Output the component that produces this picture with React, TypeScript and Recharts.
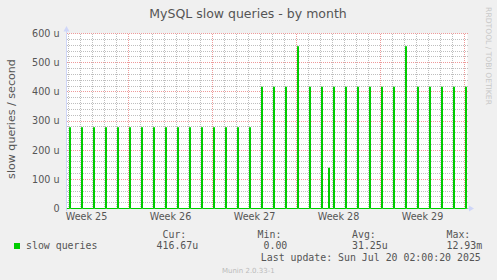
import { AreaChart, Area, XAxis, YAxis, CartesianGrid } from "recharts";

// x values are hours counted from the first midnight on the graph
const X_START = -4;
const X_END = 798;

const WEEK_LABELS = ["Week 25", "Week 26", "Week 27", "Week 28", "Week 29"];
// week boundaries, in days
const WEEK_STARTS = [-2, 5, 12, 19, 26, 33];
const DAY_LINES = [
  0, 1, 2, 3, 4, 6, 7, 8, 9, 10, 11, 13, 14, 15, 16, 17, 18, 20, 21, 22, 23,
  24, 25, 27, 28, 29, 30, 31, 32,
];

// one spike per day, slow queries per second in micro units
const DAILY_PEAKS = [
  277.78, 277.78, 277.78, 277.78, 277.78, 277.78, 277.78, 277.78,
  277.78, 277.78, 277.78, 277.78, 277.78, 277.78, 277.78, 277.78,
  416.67, 416.67, 416.67, 555.56, 416.67, 416.67, 416.67, 416.67,
  416.67, 416.67, 416.67, 416.67, 555.56, 416.67, 416.67, 416.67,
  416.67, 416.67,
];
// the odd one in the afternoon of day 21
const EXTRA_SPIKES = [{ day: 21, hour: 16, value: 138.89 }];

const Y_MAJOR = [0, 100, 200, 300, 400, 500, 600];
const Y_MINOR = [
  20, 40, 60, 80, 120, 140, 160, 180, 220, 240, 260, 280, 320, 340, 360, 380,
  420, 440, 460, 480, 520, 540, 560, 580,
];

const STAT_NAMES = ["Cur:", "Min:", "Avg:", "Max:"];
const STAT_VALUES = ["416.67u", "0.00", "31.25u", "12.93m"];

const PULSE = 2; // hours a spike stays up (one 2h sample)

const spikes = DAILY_PEAKS.map((v, d) => ({ t: d * 24 + 2, v }))
  .concat(EXTRA_SPIKES.map((s) => ({ t: s.day * 24 + s.hour, v: s.value })))
  .sort((a, b) => a.t - b.t);

const data: { t: number; v: number }[] = [{ t: X_START, v: 0 }];
spikes.forEach((s) => {
  data.push({ t: s.t, v: 0 });
  data.push({ t: s.t, v: s.v });
  data.push({ t: s.t + PULSE, v: s.v });
  data.push({ t: s.t + PULSE, v: 0 });
});
data.push({ t: X_END, v: 0 });

const weekMids = WEEK_LABELS.map((_, i) => ((WEEK_STARTS[i] + WEEK_STARTS[i + 1]) / 2) * 24);
const majorX = WEEK_STARTS.slice(1).map((d) => d * 24);
const minorX = DAY_LINES.map((d) => d * 24);

const FONT = "'DejaVu Sans', sans-serif";
const MONO = "'DejaVu Sans Mono', monospace";
const TEXT = "#555";
const AXIS = "#CFD6F8";

export default function App() {
  return (
    <div style={{ position: "absolute", left: 0, top: 0, width: 497, height: 280, background: "#F0F0F0" }}>
      <style>{`.recharts-cartesian-grid line { shape-rendering: crispEdges; }`}</style>
      <AreaChart
        width={497}
        height={280}
        data={data}
        margin={{ top: 33.5, right: 29.5, left: 0, bottom: 0 }}
      >
        <CartesianGrid
          fill="#FFFFFF"
          stroke="#BEBEBE"
          strokeDasharray="1 1"
          horizontalValues={Y_MINOR}
          verticalValues={minorX}
        />
        <CartesianGrid
          stroke="#EE9A9A"
          strokeDasharray="1 1"
          horizontalValues={Y_MAJOR}
          verticalValues={majorX}
        />
        <XAxis
          dataKey="t"
          type="number"
          domain={[X_START, X_END]}
          ticks={weekMids}
          interval={0}
          tickFormatter={(v: number) => WEEK_LABELS[weekMids.indexOf(v)]}
          height={71.5}
          axisLine={false}
          tickLine={false}
          tickSize={0}
          tickMargin={5}
          tick={{ fill: TEXT, fontSize: 9.6, fontFamily: FONT }}
        />
        <YAxis
          type="number"
          domain={[0, 600]}
          ticks={Y_MAJOR}
          interval={0}
          width={66.5}
          tickFormatter={(v: number) => (v === 0 ? "0" : `${v} u`)}
          axisLine={{ stroke: AXIS }}
          tickLine={false}
          tickSize={0}
          tickMargin={7}
          tick={{ fill: TEXT, fontSize: 9.6, fontFamily: FONT }}
        />
        <Area
          type="linear"
          dataKey="v"
          stroke="#00CC00"
          strokeWidth={1}
          fill="#00CC00"
          fillOpacity={0.55}
          isAnimationActive={false}
          dot={false}
          activeDot={false}
        />
      </AreaChart>
      <svg
        width={497}
        height={280}
        style={{ position: "absolute", left: 0, top: 0, pointerEvents: "none" }}
      >
        <text x={248} y={18.3} textAnchor="middle" fontSize={12.5} fontFamily={FONT} fill={TEXT}>
          MySQL slow queries - by month
        </text>
        <text
          transform="translate(14.5,119) rotate(-90)"
          textAnchor="middle"
          fontSize={11.1}
          fontFamily={FONT}
          fill={TEXT}
        >
          slow queries / second
        </text>
        <text
          transform="translate(485.5,56) rotate(90)"
          textAnchor="middle"
          fontSize={7.6}
          fontFamily={FONT}
          fill="#C8C8C8"
        >
          RRDTOOL / TOBI OETIKER
        </text>
        {/* axis arrows */}
        <line x1={66.5} y1={28} x2={66.5} y2={33.5} stroke={AXIS} />
        <line x1={66.5} y1={208.5} x2={66.5} y2={211} stroke={AXIS} />
        <polygon points="63.5,31.5 69.5,31.5 66.5,26" fill={AXIS} />
        <line x1={467.5} y1={208.5} x2={470} y2={208.5} stroke={AXIS} />
        <polygon points="469,205.5 469,211.5 474,208.5" fill={AXIS} />
        {/* legend */}
        <rect x={14} y={243} width={6} height={6} fill="#00CC00" />
        <text x={26} y={249} fontSize={9.9} fontFamily={MONO} fill={TEXT}>
          slow queries
        </text>
        {STAT_NAMES.map((s, i) => (
          <text key={s} x={[162.5, 257.6, 352, 446.5][i]} y={237.5} fontSize={9.9} fontFamily={MONO} fill={TEXT}>
            {s}
          </text>
        ))}
        {STAT_VALUES.map((s, i) => (
          <text key={s} x={[156.6, 263.5, 352, 446.5][i]} y={249} fontSize={9.9} fontFamily={MONO} fill={TEXT}>
            {s}
          </text>
        ))}
        <text x={260.8} y={260.7} fontSize={9.9} fontFamily={MONO} fill={TEXT}>
          Last update: Sun Jul 20 02:00:20 2025
        </text>
        <text x={248.3} y={272.5} textAnchor="middle" fontSize={7} fontFamily={FONT} fill="#BBBBBB">
          Munin 2.0.33-1
        </text>
      </svg>
    </div>
  );
}
